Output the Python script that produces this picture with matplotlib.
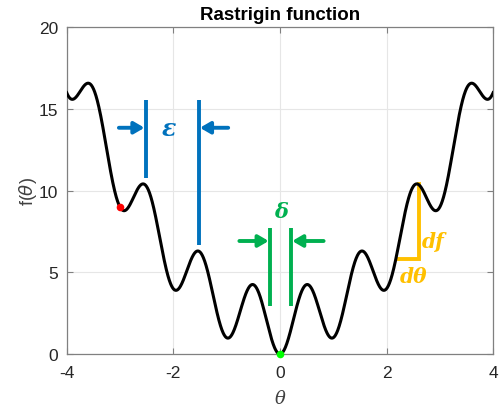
import numpy as np
import matplotlib
matplotlib.use("Agg")
import matplotlib.pyplot as plt

# ---- data ----
theta_range = [-4, 4]
amplitude = 2.0                 # Rastrigin amplitude
n_samples = 1601
red_point = [-3.0, 9.0]
green_point = [0.0, 0.0]
eps_lines_x = [-2.52, -1.52]
eps_lines_y = [[10.8, 15.55], [6.65, 15.55]]
eps_arrow_y = 13.85
eps_arrow_from = [-3.02, -0.97]
delta_lines_x = [-0.19, 0.21]
delta_lines_y = [2.95, 7.7]
delta_arrow_y = 6.92
delta_arrow_from = [-0.76, 0.82]
df_x = 2.6
df_bottom = 5.8
dtheta_left = 2.23
xticks = [-4, -2, 0, 2, 4]
yticks = [0, 5, 10, 15, 20]

theta = np.linspace(theta_range[0], theta_range[1], n_samples)
f = theta**2 + amplitude * (1 - np.cos(2 * np.pi * theta))

def rastrigin(x):
    return x**2 + amplitude * (1 - np.cos(2 * np.pi * x))

BLUE = "#0072BD"
GREEN = "#00B050"
ORANGE = "#FFC000"

fig = plt.figure(figsize=(5, 4.1), dpi=100)
ax = fig.add_axes([0.1333, 0.134, 0.853, 0.797])

ax.plot(theta, f, color="black", lw=2.2, zorder=3)
ax.plot(*red_point, "o", color="#FF0000", ms=5.5, zorder=4, mec="none")
ax.plot(*green_point, "o", color="#00FF00", ms=5.5, zorder=4, mec="none", clip_on=False)

# epsilon annotation
for xv, (y0, y1) in zip(eps_lines_x, eps_lines_y):
    ax.plot([xv, xv], [y0, y1], color=BLUE, lw=2.8, solid_capstyle="butt", zorder=2)
for xs, xv in zip(eps_arrow_from, eps_lines_x):
    ax.annotate("", xy=(xv - 0.02 if xs < xv else xv + 0.02, eps_arrow_y), xytext=(xs, eps_arrow_y),
                arrowprops=dict(arrowstyle="-|>,head_length=0.6,head_width=0.35",
                                color=BLUE, lw=2.8, shrinkA=0, shrinkB=0))
ax.text(-2.08, eps_arrow_y, "ε", color=BLUE, fontsize=17, fontfamily="DejaVu Serif",
        fontweight="bold", fontstyle="italic", ha="center", va="center")

# delta annotation
for xv in delta_lines_x:
    ax.plot([xv, xv], delta_lines_y, color=GREEN, lw=2.8, solid_capstyle="butt", zorder=2)
for xs, xv in zip(delta_arrow_from, delta_lines_x):
    ax.annotate("", xy=(xv - 0.02 if xs < xv else xv + 0.02, delta_arrow_y), xytext=(xs, delta_arrow_y),
                arrowprops=dict(arrowstyle="-|>,head_length=0.6,head_width=0.35",
                                color=GREEN, lw=2.8, shrinkA=0, shrinkB=0))
ax.text(0.02, 8.75, "δ", color=GREEN, fontsize=15, fontfamily="DejaVu Serif",
        fontweight="bold", fontstyle="italic", ha="center", va="center")

# df / dtheta annotation
ax.plot([dtheta_left, df_x, df_x], [df_bottom, df_bottom, rastrigin(df_x)], color=ORANGE,
        lw=2.8, solid_joinstyle="miter", zorder=2)
ax.text(2.88, 6.95, "df", color=ORANGE, fontsize=14.5, fontfamily="DejaVu Serif",
        fontweight="bold", fontstyle="italic", ha="center", va="center")
ax.text(2.5, 4.75, "dθ", color=ORANGE, fontsize=14.5, fontfamily="DejaVu Serif",
        fontweight="bold", fontstyle="italic", ha="center", va="center")

ax.set_xlim(theta_range)
ax.set_ylim(0, 20)
ax.set_xticks(xticks)
ax.set_yticks(yticks)
ax.set_xticklabels([str(t) for t in xticks], fontfamily="Liberation Sans", fontsize=12.5)
ax.set_yticklabels([str(t) for t in yticks], fontfamily="Liberation Sans", fontsize=12.5)
ax.grid(True, color="#e6e6e6", lw=0.8, zorder=0)
ax.set_axisbelow(True)
for s in ax.spines.values():
    s.set_color("#808080")
    s.set_linewidth(0.9)
ax.tick_params(direction="in", length=4, width=0.8, color="#808080", labelcolor="#262626",
               top=True, right=True)
ax.tick_params(axis="x", pad=8)
ax.tick_params(axis="y", pad=6)

ax.set_title("Rastrigin function", fontfamily="Liberation Sans", fontweight="bold",
             fontsize=13.5, pad=6)
ax.set_xlabel("θ", fontfamily="DejaVu Serif", fontstyle="italic", fontsize=13, color="#404040",
              labelpad=6)
ax.set_ylabel("f($\\theta$)", fontfamily="Liberation Sans", fontsize=13, color="#404040", labelpad=0)

fig.savefig("out.png", dpi=100)
